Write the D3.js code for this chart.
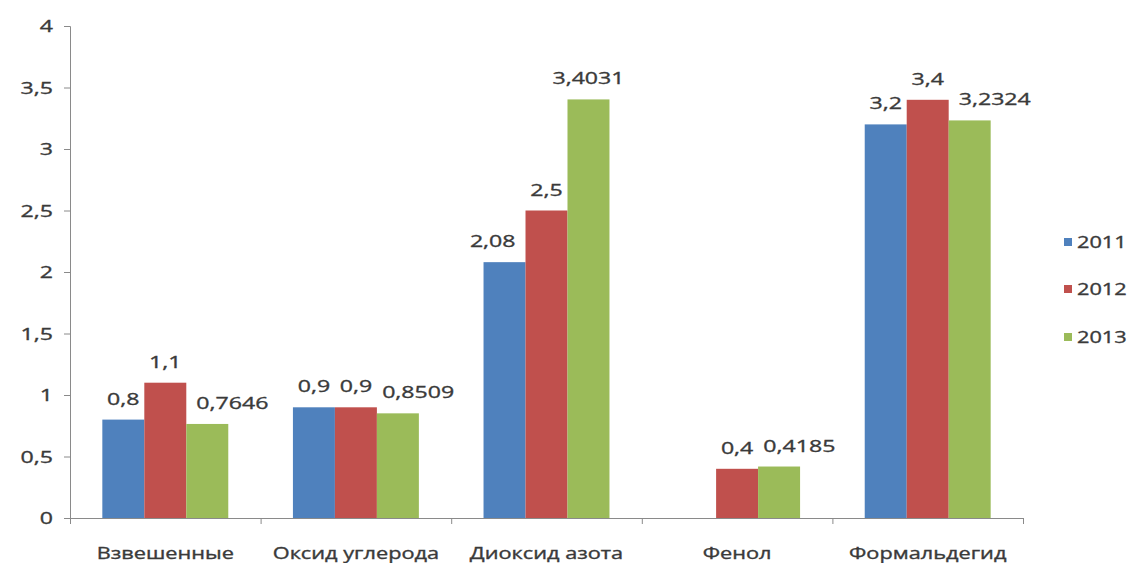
<!DOCTYPE html>
<html>
<head>
<meta charset="utf-8">
<script src="https://cdn.jsdelivr.net/npm/d3@7/dist/d3.min.js"></script>
<style>
  html, body { margin: 0; padding: 0; background: #fff; }
  svg { display: block; }
  text { font-family: "Open Sans", "Noto Sans", sans-serif; fill: #3a3a3a; stroke: #3a3a3a; stroke-width: 0.35px; }
</style>
</head>
<body>
<svg id="chart" width="1138" height="563"></svg>
<script>
// Pollutant concentrations by year
const categories = ["Взвешенные", "Оксид углерода", "Диоксид азота", "Фенол", "Формальдегид"];
const years = ["2011", "2012", "2013"];
const values2011 = [0.8, 0.9, 2.08, null, 3.2];
const values2012 = [1.1, 0.9, 2.5, 0.4, 3.4];
const values2013 = [0.7646, 0.8509, 3.4031, 0.4185, 3.2324];
const yTickValues = [0, 0.5, 1, 1.5, 2, 2.5, 3, 3.5, 4];
const seriesColors = ["#4F81BD", "#C0504D", "#9BBB59"];

const series = [values2011, values2012, values2013];

const plot = { left: 70, right: 1023, top: 26, bottom: 518 };
const FONT = 17;          // label font size
const SX = 1.36;          // horizontal text stretch
const AXIS_COLOR = "#8a8a8a";

const fmt = v => String(v).replace(".", ",");

const svg = d3.select("#chart");

const y = d3.scaleLinear().domain([0, 4]).range([plot.bottom, plot.top]);
const x0 = d3.scaleBand().domain(categories).range([plot.left, plot.right]).paddingInner(0).paddingOuter(0);
const x1 = d3.scaleBand().domain(years).range([0, x0.bandwidth()]).paddingInner(0).paddingOuter(0.77);
const xEdges = d3.scaleLinear().domain([0, categories.length]).range([plot.left, plot.right]);

function place(sel, px, py) {
  return sel.attr("transform", `translate(${px},${py}) scale(${SX},1)`);
}

// Y axis
const yAxis = svg.append("g")
  .attr("transform", `translate(${plot.left},0)`)
  .call(d3.axisLeft(y).tickValues(yTickValues).tickSize(6).tickFormat(() => ""));
yAxis.select(".domain").attr("stroke", AXIS_COLOR);
yAxis.selectAll(".tick line").attr("stroke", AXIS_COLOR);

svg.append("g").selectAll("text")
  .data(yTickValues)
  .join("text")
  .attr("text-anchor", "end")
  .attr("font-size", FONT)
  .attr("dy", "0.36em")
  .each(function (d) { place(d3.select(this), plot.left - 17, y(d)); })
  .text(d => fmt(d));

// Bars
const bars = [];
categories.forEach((c, ci) => {
  years.forEach((yr, si) => {
    const v = series[si][ci];
    if (v === null || v === undefined) return;
    bars.push({ cat: c, ci, si, year: yr, value: v,
      x: x0(c) + x1(yr), w: x1.bandwidth(), top: y(v) });
  });
});

svg.append("g").selectAll("rect")
  .data(bars)
  .join("rect")
  .attr("x", d => d.x)
  .attr("y", d => y(d.value))
  .attr("width", d => d.w)
  .attr("height", d => y(0) - y(d.value))
  .attr("fill", d => seriesColors[d.si]);

// X axis with category boundary ticks
const xAxis = svg.append("g")
  .attr("transform", `translate(0,${plot.bottom})`)
  .call(d3.axisBottom(xEdges).tickValues(d3.range(categories.length + 1)).tickSize(6).tickFormat(() => "").tickSizeOuter(0));
xAxis.select(".domain").attr("stroke", AXIS_COLOR);
xAxis.selectAll(".tick line").attr("stroke", AXIS_COLOR);

svg.append("g").selectAll("text")
  .data(categories)
  .join("text")
  .attr("text-anchor", "middle")
  .attr("font-size", FONT - 1)
  .each(function (d) { place(d3.select(this), x0(d) + x0.bandwidth() / 2, 559); })
  .text(d => d);

// Value labels above bars; nudged sideways to clear neighbouring bars and labels
const labelLayer = svg.append("g");
const capH = FONT * 0.72;
const PAD = 10;
categories.forEach(c => {
  const group = bars.filter(b => b.cat === c);
  const placed = [];
  group.forEach(b => {
    const t = labelLayer.append("text")
      .attr("text-anchor", "middle")
      .attr("font-size", FONT)
      .text(fmt(b.value));
    const w = t.node().getComputedTextLength() * SX;
    const base = b.top - 15;
    let cx = b.x + b.w / 2;
    const box = () => ({ l: cx - w / 2, r: cx + w / 2, t: base - capH, b: base });
    const obstacles = group.filter(o => o !== b)
      .map(o => ({ l: o.x, r: o.x + o.w, t: o.top, b: plot.bottom }))
      .concat(placed);
    for (let pass = 0; pass < 2; pass++) {
      obstacles.forEach(o => {
        const bb = box();
        if (bb.l < o.r && bb.r > o.l && bb.t < o.b && bb.b > o.t) {
          const oc = (o.l + o.r) / 2;
          if (oc < cx) cx = o.r + PAD + w / 2;
          else cx = o.l - PAD - w / 2;
        }
      });
    }
    placed.push(box());
    place(t, cx, base);
  });
});

// Legend
const legend = svg.append("g");
const legendY = [242, 289, 337];
years.forEach((yr, i) => {
  legend.append("rect")
    .attr("x", 1064).attr("y", legendY[i] - 4)
    .attr("width", 8).attr("height", 8)
    .attr("fill", seriesColors[i]);
  const t = legend.append("text")
    .attr("font-size", FONT - 1)
    .attr("dy", "0.36em")
    .text(yr);
  place(t, 1077, legendY[i]);
});
</script>
</body>
</html>
